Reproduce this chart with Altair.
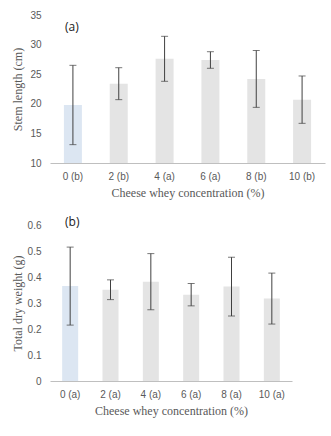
import altair as alt
import pandas as pd

categories_a = ["0 (b)", "2 (b)", "4 (a)", "6 (a)", "8 (b)", "10 (b)"]
stem_length = [19.8, 23.4, 27.6, 27.4, 24.2, 20.7]
stem_err = [6.7, 2.7, 3.8, 1.4, 4.8, 4.0]

categories_b = ["0 (a)", "2 (a)", "4 (a)", "6 (a)", "8 (a)", "10 (a)"]
dry_weight = [0.365, 0.351, 0.382, 0.332, 0.363, 0.317]
dry_err = [0.150, 0.038, 0.108, 0.043, 0.113, 0.098]

is_control = [True, False, False, False, False, False]

BLUE = "#dce6f2"
GRAY = "#e4e4e4"
ERR = "#404040"
TXT = "#595959"
SERIF = "Liberation Serif"
SANS = "Liberation Sans"

df_a = pd.DataFrame({"cat": categories_a, "val": stem_length, "err": stem_err, "ctrl": is_control})
df_a["lo"] = df_a["val"] - df_a["err"]
df_a["hi"] = df_a["val"] + df_a["err"]
df_b = pd.DataFrame({"cat": categories_b, "val": dry_weight, "err": dry_err, "ctrl": is_control})
df_b["lo"] = df_b["val"] - df_b["err"]
df_b["hi"] = df_b["val"] + df_b["err"]


def panel(df, cats, ytitle, ydomain, yvalues, base, width, height, barsize, label, label_dy):
    xaxis = alt.Axis(labelAngle=0, labelPadding=8, titlePadding=6, ticks=False,
                     domain=True, domainColor="#bfbfbf", grid=False,
                     labelFont=SANS, labelFontSize=10, labelColor=TXT,
                     titleFont=SERIF, titleFontSize=12, titleColor=TXT,
                     titleFontWeight="normal")
    yaxis = alt.Axis(values=yvalues, format="~g", ticks=False, domain=False, grid=False,
                     labelOverlap=False, labelPadding=9, titleX=-33, titleBaseline="middle",
                     labelFont=SANS, labelFontSize=10, labelColor=TXT,
                     titleFont=SERIF, titleFontSize=12, titleColor=TXT,
                     titleFontWeight="normal")
    yscale = alt.Scale(domain=ydomain, nice=False, zero=False)
    xscale = alt.Scale(paddingInner=0, paddingOuter=0)
    x = alt.X("cat:N", sort=cats, title="Cheese whey concentration (%)", scale=xscale, axis=xaxis)

    def Y(field):
        return alt.Y(field, title=ytitle, scale=yscale, axis=yaxis)

    color = alt.Color("ctrl:N", scale=alt.Scale(domain=[True, False], range=[BLUE, GRAY]), legend=None)
    basec = alt.Chart(df).encode(x=x)
    bars = basec.mark_bar(size=barsize).encode(y=Y("val:Q"), y2=alt.datum(base), color=color)
    rule = basec.mark_rule(color=ERR, strokeWidth=1).encode(y=Y("lo:Q"), y2="hi:Q")
    cap_lo = basec.mark_tick(color=ERR, size=7, thickness=1).encode(y=Y("lo:Q"))
    cap_hi = basec.mark_tick(color=ERR, size=7, thickness=1).encode(y=Y("hi:Q"))
    title = alt.TitleParams(text=label, anchor="start", frame="group", orient="top",
                            font="Open Sans", fontSize=12, fontWeight="normal", color="#1a1a1a",
                            align="left", baseline="middle", offset=0, dx=15, dy=label_dy)
    return alt.layer(bars, rule, cap_lo, cap_hi).properties(width=width, height=height, title=title)


top = panel(df_a, categories_a, "Stem length (cm)", [10, 35], [10, 15, 20, 25, 30, 35], 10,
            275, 148, 18, "(a)", 29)
bottom = panel(df_b, categories_b, "Total dry weight (g)", [0, 0.6], [0, 0.1, 0.2, 0.3, 0.4, 0.5, 0.6], 0,
               242, 156, 16, "(b)", 14)

chart = alt.vconcat(top, bottom, spacing=18).properties(
    padding={"left": 11, "top": 10, "right": 5, "bottom": 5}
).configure_view(stroke=None)

chart.save("out.html", embed_options={"renderer": "svg", "actions": False})
